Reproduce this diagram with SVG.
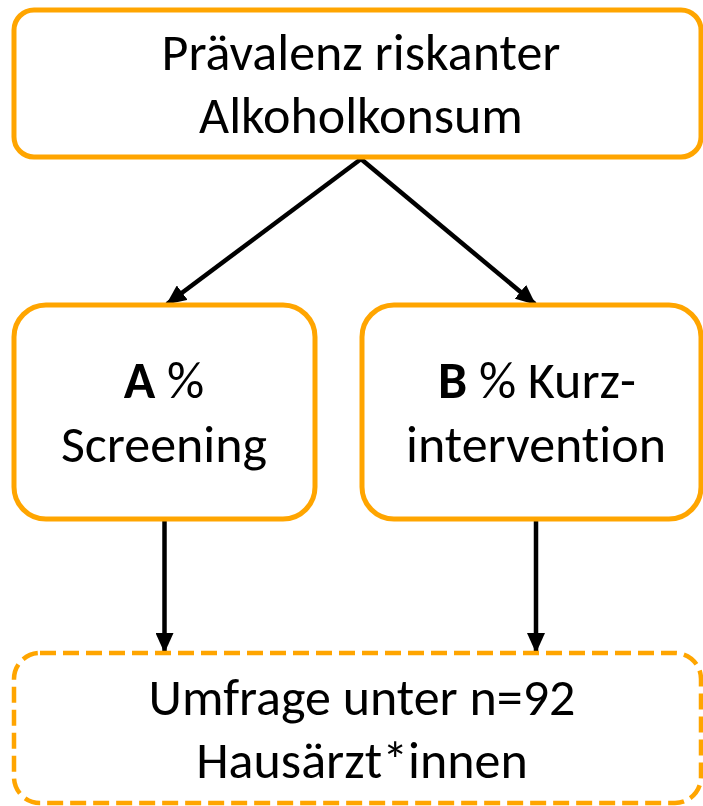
<svg xmlns="http://www.w3.org/2000/svg" width="703" height="806" viewBox="0 0 703 806">
  <style>
    .box { fill: #ffffff; stroke: #FFA500; stroke-width: 5; }
    .dashed { stroke-dasharray: 16 7; stroke-width: 4.5; }
    .lbl { font-family: Carlito, Calibri, "Open Sans", "Liberation Sans", sans-serif; font-size: 52px; fill: #000000; text-anchor: middle; font-variant-ligatures: none; font-feature-settings: "liga" 0, "clig" 0, "dlig" 0; }
    .edge { stroke: #000000; stroke-width: 4.5; fill: none; marker-end: url(#arrow); }
  </style>
  <defs>
    <marker id="arrow" markerUnits="userSpaceOnUse" markerWidth="20" markerHeight="18" viewBox="0 0 20 18" refX="19" refY="9" orient="auto">
      <path d="M0,0 L20,9 L0,18 Z" fill="#000000"/>
    </marker>
  </defs>
  <rect width="703" height="806" fill="#ffffff"/>

  <g id="connectors">
    <line class="edge" x1="361" y1="159" x2="167" y2="304"/>
    <line class="edge" x1="361" y1="159" x2="535" y2="304"/>
    <line class="edge" x1="164.5" y1="519" x2="164.5" y2="652"/>
    <line class="edge" x1="536" y1="519" x2="536" y2="652"/>
  </g>

  <g id="node-praevalenz">
    <rect class="box" x="14" y="10" width="687" height="147" rx="20"/>
    <text class="lbl" x="361" y="70">Prävalenz riskanter</text>
    <text class="lbl" x="361" y="133">Alkoholkonsum</text>
  </g>

  <g id="node-screening">
    <rect class="box" x="14" y="305" width="301" height="214" rx="32"/>
    <text class="lbl" x="164" y="398"><tspan font-weight="bold">A</tspan> %</text>
    <text class="lbl" x="164" y="462">Screening</text>
  </g>

  <g id="node-kurzintervention">
    <rect class="box" x="362" y="305" width="339" height="214" rx="32"/>
    <text class="lbl" x="537" y="398"><tspan font-weight="bold">B</tspan> % Kurz-</text>
    <text class="lbl" x="536" y="462">intervention</text>
  </g>

  <g id="node-umfrage">
    <rect class="box dashed" x="14" y="653" width="687" height="150" rx="26"/>
    <text class="lbl" x="362" y="715">Umfrage unter n=92</text>
    <text class="lbl" x="362" y="778">Hausärzt*innen</text>
  </g>
</svg>
